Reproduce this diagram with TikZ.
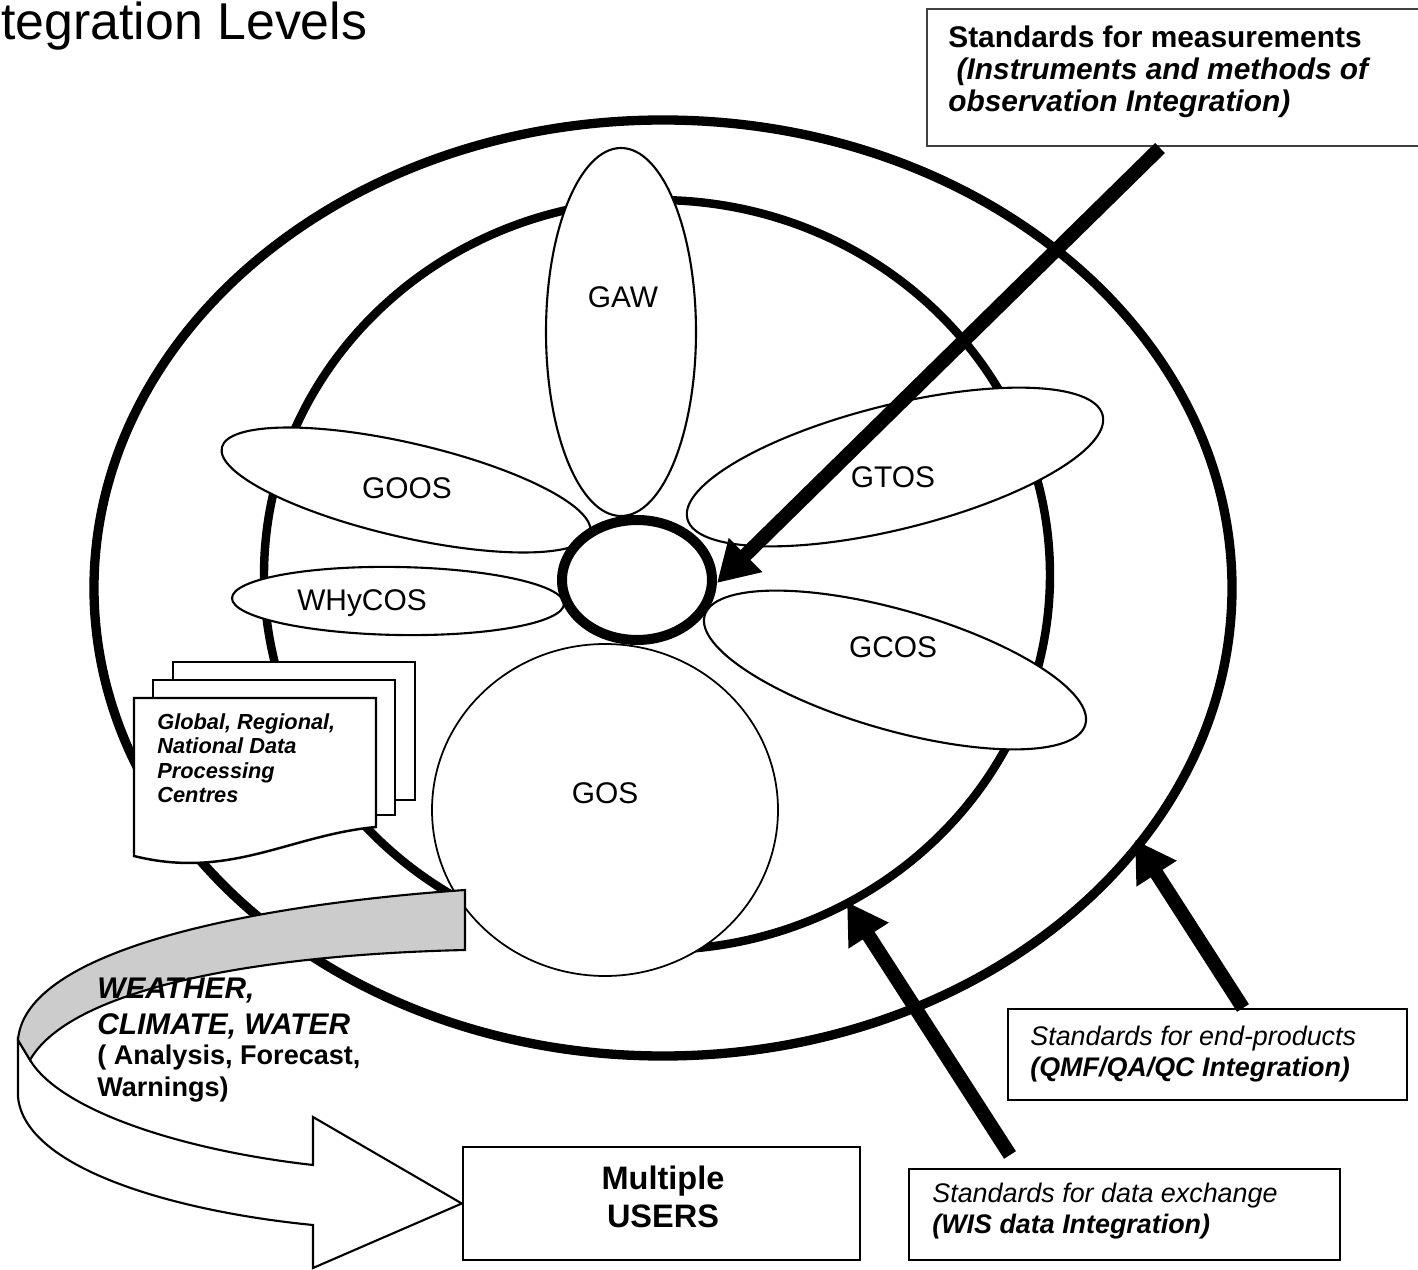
\documentclass[tikz,border=0pt]{standalone}
\usepackage{fontspec}
\setmainfont{Liberation Sans}
\usetikzlibrary{arrows.meta,positioning,shapes.geometric}

\tikzset{
  ring/.style={line width=5.3pt},
  petal/.style={draw, fill=white, line width=1.2pt},
  petallabel/.style={inner sep=0pt, font=\fontsize{17}{20}\selectfont},
  page/.style={draw, fill=white, line width=1.4pt},
  stdbox/.style={draw, fill=white, line width=1.4pt, inner sep=0pt},
  stdtext/.style={anchor=north west, inner sep=0pt, align=left,
    font=\fontsize{15.3}{17.6}\selectfont},
  bigarrow/.style={line width=8pt, -{Triangle[length=0.8cm, width=0.9cm]}},
}

\begin{document}
\begin{tikzpicture}[x=0.02cm, y=-0.02cm]
\useasboundingbox (0,0) rectangle (1418,1270);
\clip (0,0) rectangle (1418,1270);
\fill[white] (0,0) rectangle (1418,1270);

% title, cut by the page edge
\node[anchor=base west, inner sep=0pt, font=\fontsize{29.5}{34}\selectfont]
  (title) at (1,40) {tegration Levels};

% the two levels
\draw[ring] (663,588) ellipse (569 and 468);
\draw[ring, line width=4.8pt] (657,575) ellipse (393 and 375);

% petals
\draw[petal] (621,332) ellipse (75 and 184);
\draw[petal, rotate around={-13:(406,490)}] (406,490) ellipse (189 and 47);
\draw[petal, rotate around={-1:(398,601)}] (398,601) ellipse (166 and 34);
\draw[petal, rotate around={14:(895,467)}] (895,467) ellipse (214 and 62);
\draw[petal, rotate around={-16:(895,670)}] (895,670) ellipse (198 and 60);
\draw[petal, line width=1pt] (605,810) ellipse (173 and 166);
\node[ellipse, draw, fill=white, line width=5.7pt, minimum width=3cm,
  minimum height=2.4cm] (core) at (637,580) {};

\node[petallabel] (gaw) at (623,297) {GAW};
\node[petallabel] (goos) at (407,488) {GOOS};
\node[petallabel] (whycos) at (362,603) {WHyCOS};
\node[petallabel] (gtos) at (893,477) {GTOS};
\node[petallabel] (gcos) at (893,647) {GCOS};
\node[petallabel] (gos) at (605,793) {GOS};

% data processing centres
\draw[page] (173,662) rectangle (415,800);
\draw[page] (153,680) rectangle (395,815);
\draw[page] (134,698) -- (376,698) -- (376,827)
  .. controls (290,835) and (230,880) .. (134,856) -- cycle;
\node[anchor=north west, inner sep=0pt, align=left,
  font=\fontsize{12.4}{14}\selectfont\bfseries\itshape]
  (centres) at (157,713) {Global, Regional,\\National Data\\Processing\\Centres};

% users box
\node[stdbox, minimum width=7.94cm, minimum height=2.26cm] (users) at (661.5,1203.5) {};
\node[anchor=north, inner sep=0pt, align=center,
  font=\fontsize{18.5}{21.5}\selectfont\bfseries]
  (userstext) at (663,1166) {Multiple\\USERS};

% ribbon arrow
\draw[line width=1.2pt, fill=white] (18,1040) -- (18,1097)
  .. controls (25,1170) and (180,1212) .. (313,1225) -- (313,1268)
  -- (users.west) -- (313,1117) -- (313,1165)
  .. controls (180,1150) and (60,1110) .. (30,1060) -- cycle;
\draw[line width=1.2pt, fill=gray!40] (465,890)
  .. controls (250,905) and (25,950) .. (18,1040) -- (30,1060)
  .. controls (70,990) and (250,955) .. (465,950) -- cycle;
\node[anchor=north west, inner sep=0pt, align=left,
  font=\fontsize{17}{20.4}\selectfont\bfseries\itshape]
  (wcw) at (97,978) {WEATHER,\\CLIMATE, WATER};
\node[anchor=north west, inner sep=0pt, align=left,
  font=\fontsize{15.4}{18}\selectfont\bfseries]
  (wcwnote) at (97,1045) {( Analysis, Forecast,\\Warnings)};

% standards
\node[draw=black!75, fill=white, line width=0.9pt, inner sep=0pt,
  minimum width=10.26cm, minimum height=2.74cm] (meas) at (1183.5,77.5) {};
\node[stdtext, font=\fontsize{17}{18.1}\selectfont\bfseries] (meastext) at (948,26)
  {Standards for measurements\\\itshape\ (Instruments and methods of\\\itshape observation Integration)};
\node[stdbox, minimum width=7.98cm, minimum height=1.82cm] (endprod) at (1207.5,1054.5) {};
\node[stdtext] (endprodtext) at (1030,1025.5)
  {{\itshape Standards for end-products}\\{\bfseries\itshape (QMF/QA/QC Integration)}};
\node[stdbox, minimum width=8.62cm, minimum height=1.82cm] (wis) at (1124.5,1214.5) {};
\node[stdtext] (wistext) at (932,1182.5)
  {{\itshape Standards for data exchange}\\{\bfseries\itshape (WIS data Integration)}};

% arrows
\coordinate (measfoot) at (1160,148);
\coordinate (meastip) at (717,583);
\coordinate (wisfoot) at (1010,1155);
\coordinate (wistip) at (847,902);
\coordinate (endfoot) at (1243,1008);
\coordinate (endtip) at (1135,840);
\draw[bigarrow] (measfoot) -- (meastip);
\draw[bigarrow] (wisfoot) -- (wistip);
\draw[bigarrow] (endfoot) -- (endtip);
\end{tikzpicture}
\end{document}
